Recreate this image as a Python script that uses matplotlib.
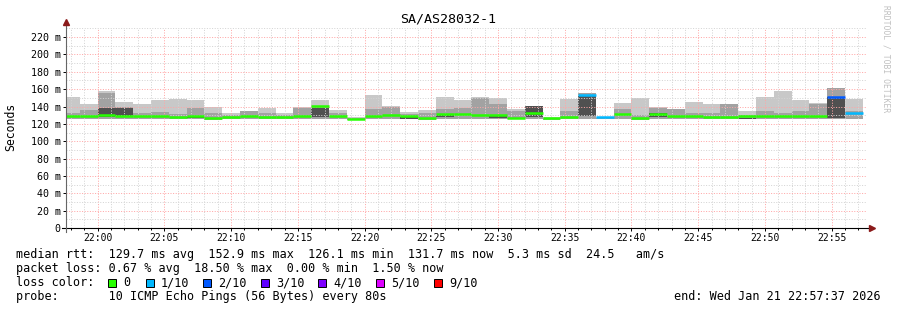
import numpy as np
import matplotlib
matplotlib.use("Agg")
import matplotlib.pyplot as plt
from matplotlib.patches import Rectangle

# ---- Data (SmokePing style: 45 steps of 80 s, minutes relative to 22:00) ----
title = "SA/AS28032-1"
step_min = 80 / 60.0
t_first = -8 / 3.0          # first step starts 21:57:20
t_left, t_right = -2.375, 57.617   # 21:57:37 .. 22:57:37

light_top = [151, 143, 158, 145.5, 143, 148, 149, 148, 140, 132.5,
             135, 138, 132, 140, 147, 136, 127.5, 153.5, 140.5, 134,
             136, 150.5, 148, 151, 149.5, 137, 140.5, 128, 149, 155.5,
             128, 144, 150, 140, 137, 145.5, 143, 142.5, 134.5, 151,
             158, 147.5, 143.5, 161, 148.5]
mid_top = [133, 136, 155, 140, 132, 134, 131, 138, 133, 130,
           135, 133, 130, 138, 140, 133, 127, 137, 139, 131,
           133, 137, 138, 149.5, 143, 135, 140.5, 127, 135, 155.5,
           127, 137, 130, 138, 137, 132.5, 132, 142.5, 130, 135,
           133, 135, 143, 161, 135]
dark_lo = [0, 0, 128, 129, 0, 0, 0, 126.5, 0, 0,
           0, 0, 0, 0, 127.5, 0, 0, 0, 0, 126,
           0, 128, 0, 0, 126.5, 0, 128, 0, 0, 128.5,
           0, 0, 0, 127.5, 0, 0, 0, 0, 126, 0,
           0, 0, 0, 127, 0]
dark_hi = [0, 0, 138, 138, 0, 0, 0, 128, 0, 0,
           0, 0, 0, 0, 138, 0, 0, 0, 0, 128,
           0, 130, 0, 0, 128.5, 0, 140.5, 0, 0, 153,
           0, 0, 0, 133, 0, 0, 0, 0, 127, 0,
           0, 0, 0, 151, 0]
smoke_bot = [125.5, 126, 126, 126, 126, 126, 125.5, 126, 124.5, 126,
             126, 125.5, 126, 126, 126, 126, 125, 126, 126, 125.5,
             125, 126, 126, 126, 126, 125.5, 126, 125, 126, 126,
             125.5, 126, 125, 126, 126, 126, 126, 126, 125.5, 126,
             126, 126, 126, 125.5, 126]
median = [128.5, 129.5, 130.5, 128.5, 128.5, 128.5, 127.5, 129.5, 126.5, 128,
          128.5, 128, 128, 129, 140.5, 128.5, 126, 129, 130, 129.5,
          127, 131, 131, 130.5, 130.5, 127, 132, 127, 127.5, 153.5,
          128, 131, 127, 131.5, 129, 129, 128, 128, 128.5, 128.5,
          128.5, 128.5, 128.5, 151.3, 132]
loss = [0, 0, 0, 0, 0, 0, 0, 0, 0, 0,
        0, 0, 0, 0, 0, 0, 0, 0, 0, 0,
        0, 0, 0, 0, 0, 0, 0, 0, 0, 1,
        1, 0, 0, 0, 0, 0, 0, 0, 0, 0,
        0, 0, 0, 2, 1]

loss_labels = ["0", "1/10", "2/10", "3/10", "4/10", "5/10", "9/10"]
loss_colors = ["#26ff00", "#00b8ff", "#0059ff", "#5e00ff", "#7e00ff", "#dd00ff", "#ff0000"]

x_tick_labels = ["22:00", "22:05", "22:10", "22:15", "22:20", "22:25",
                 "22:30", "22:35", "22:40", "22:45", "22:50", "22:55"]
y_ticks = list(range(0, 221, 20))

legend_lines = [
    "median rtt:  129.7 ms avg  152.9 ms max  126.1 ms min  131.7 ms now  5.3 ms sd  24.5   am/s",
    "packet loss: 0.67 % avg  18.50 % max  0.00 % min  1.50 % now",
    "loss color:",
    "probe:       10 ICMP Echo Pings (56 Bytes) every 80s",
]
end_text = "end: Wed Jan 21 22:57:37 2026"

MONO = "DejaVu Sans Mono"
W, H = 897, 310

def fx(px):
    return px / W

def fy(py):
    return 1 - py / H

# ---- Figure ----
fig = plt.figure(figsize=(W / 100, H / 100), dpi=100)
ax = fig.add_axes([fx(66), fy(228), (866.6 - 66) / W, (228 - 28.4) / H])
ax.set_xlim(t_left, t_right)
ax.set_ylim(0, 230)

n = len(median)
edges = t_first + step_min * np.arange(n + 1)

# smoke
ax.stairs(light_top, edges, baseline=smoke_bot, fill=True, color="#c8c8c8", lw=0)
ax.stairs(mid_top, edges, baseline=smoke_bot, fill=True, color="#a2a2a2", lw=0)
ax.stairs(dark_hi, edges, baseline=dark_lo, fill=True, color="#505050", lw=0)

# median colored by loss
ax.hlines(median, edges[:-1], edges[1:], colors=[loss_colors[l] for l in loss],
          linewidth=1.8, zorder=3)

# grid (dotted, drawn over the smoke like rrdtool)
ax.set_xticks(np.arange(0, 56, 5))
ax.set_xticks(np.arange(-2, 58), minor=True)
ax.set_yticks(y_ticks)
ax.set_yticks(np.arange(0, 231, 10), minor=True)
ax.grid(which="minor", color="#d4d4d4", linestyle=(0, (1, 1.6)), linewidth=0.72)
ax.grid(which="major", color="#ffa6a6", linestyle=(0, (1, 1.6)), linewidth=0.72)

ax.set_xticklabels(x_tick_labels, fontsize=7.05, family=MONO)
ax.set_yticklabels(["0"] + [f"{v} m" for v in y_ticks[1:]], fontsize=7.2, family=MONO)
ax.tick_params(which="major", direction="out", length=2.2, width=0.7, pad=1.6)
ax.tick_params(which="minor", direction="out", length=1.2, width=0.7)
ax.tick_params(axis="y", which="minor", length=0)

for s in ax.spines.values():
    s.set_visible(False)

# axis lines with arrows
aw, ah = 800.6, 199.6
ax.plot([-4 / aw, 1 + 2 / aw], [0, 0], transform=ax.transAxes, color="black",
        lw=0.8, clip_on=False, zorder=5)
ax.plot([0, 0], [-4 / ah, 1 + 3 / ah], transform=ax.transAxes, color="#666666",
        lw=0.8, clip_on=False, zorder=5)
ax.plot([1 + 5 / aw], [0], marker=">", ms=4.5, color="#8b1a1a", transform=ax.transAxes,
        clip_on=False, zorder=6)
ax.plot([0], [1 + 6 / ah], marker="^", ms=4.5, color="#8b1a1a", transform=ax.transAxes,
        clip_on=False, zorder=6)

# ---- Texts ----
fig.text(fx(448), fy(19), title, ha="center", va="center", fontsize=9.6, family=MONO)
fig.text(fx(11), fy(127), "Seconds", ha="center", va="center", rotation=90,
         fontsize=8.3, family=MONO)
fig.text(fx(886), fy(59), "RRDTOOL / TOBI OETIKER", ha="center", va="center",
         rotation=270, fontsize=5.8, family=MONO, color="#c0c0c0")

line_y = [254.5, 268.5, 282.5, 296.5]
for txt, yy in zip(legend_lines, line_y):
    fig.text(fx(16), fy(yy), txt, ha="left", va="center", fontsize=8.5, family=MONO)
fig.text(fx(881), fy(296.5), end_text, ha="right", va="center", fontsize=8.5, family=MONO)

swatch_x = [108, 146, 203, 261, 318, 376, 434]
for sx, lab, col in zip(swatch_x, loss_labels, loss_colors):
    fig.patches.append(Rectangle((fx(sx), fy(286.5)), 8 / W, 8 / H, facecolor=col,
                                 edgecolor="black", lw=0.7, transform=fig.transFigure))
    fig.text(fx(sx + 15), fy(282.5), lab, ha="left", va="center", fontsize=8.5, family=MONO)

fig.savefig("out.png", dpi=100, facecolor="white")
